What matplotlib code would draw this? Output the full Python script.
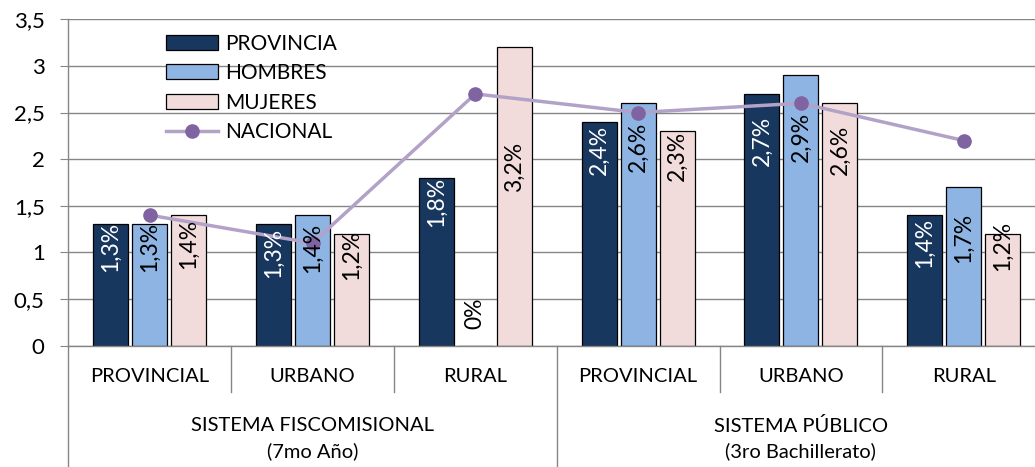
import numpy as np
import matplotlib.pyplot as plt
from matplotlib.lines import Line2D
from matplotlib.patches import Patch
from matplotlib.ticker import FuncFormatter
import matplotlib.transforms as mtransforms

plt.rcParams['font.family'] = ['Lato', 'DejaVu Sans']

categorias = ["PROVINCIAL", "URBANO", "RURAL", "PROVINCIAL", "URBANO", "RURAL"]
grupos = ["SISTEMA FISCOMISIONAL\n(7mo Año)", "SISTEMA PÚBLICO\n(3ro Bachillerato)"]
provincia = [1.3, 1.3, 1.8, 2.4, 2.7, 1.4]
hombres = [1.3, 1.4, 0.0, 2.6, 2.9, 1.7]
mujeres = [1.4, 1.2, 3.2, 2.3, 2.6, 1.2]
nacional = [1.4, 1.1, 2.7, 2.5, 2.6, 2.2]

# where each rotated data label sits (centre, in axis units) - hand placed in the original
pos_prov = [1.06, 0.99, 1.54, 2.10, 2.20, 1.10]
pos_homb = [1.06, 1.05, 0.35, 2.13, 2.24, 1.16]
pos_muj = [1.09, 0.97, 1.92, 2.03, 2.10, 1.07]

c_prov = "#17375E"
c_homb = "#8DB4E2"
c_muj = "#F2DCDB"
c_nac_line = "#B3A2C7"
c_nac_mark = "#8064A2"
gris = "#868686"

W, H = 1035, 467
fig = plt.figure(figsize=(W / 100, H / 100), dpi=100)
y0, y35 = 345.7, 19.3
x0, cat_w = 68.3, 162.8
ax = fig.add_axes([x0 / W, (H - y0) / H, 6 * cat_w / W, (y0 - y35) / H])

x = np.arange(len(categorias))
bw, off = 0.215, 0.24
series = [(provincia, pos_prov, c_prov, "white", -off, "PROVINCIA"),
          (hombres, pos_homb, c_homb, "black", 0, "HOMBRES"),
          (mujeres, pos_muj, c_muj, "black", off, "MUJERES")]

for vals, pos, col, tcol, dx, name in series:
    ax.bar(x + dx, vals, width=bw, color=col, edgecolor="black", linewidth=0.9, zorder=2, label=name)
    for xi, v, p in zip(x, vals, pos):
        txt = "0%" if v == 0 else f"{v:.1f}".replace(".", ",") + "%"
        ax.text(xi + dx, p, txt, rotation=90, ha="center", va="center",
                color=tcol, fontsize=16.5, zorder=5)

ax.plot(x, nacional, color=c_nac_line, lw=2.5, marker="o", markersize=9.5,
        markerfacecolor=c_nac_mark, markeredgecolor=c_nac_mark, zorder=4, label="NACIONAL")

ax.set_xlim(-0.5, 5.5)
ax.set_ylim(0, 3.5)
ax.set_yticks(np.arange(0, 3.51, 0.5))
ax.yaxis.set_major_formatter(FuncFormatter(lambda v, _: f"{v:g}".replace(".", ",")))
ax.tick_params(axis="y", length=6, color=gris, pad=11, labelsize=16)
ax.set_xticks([])
ax.set_axisbelow(True)
ax.yaxis.grid(True, color=gris, lw=1)
for s in ["top", "right"]:
    ax.spines[s].set_visible(False)
for s in ["left", "bottom"]:
    ax.spines[s].set_color(gris)
    ax.spines[s].set_linewidth(1)

# category axis: labels and separators
trans = mtransforms.blended_transform_factory(ax.transData, ax.transAxes)
ppu = y0 - y35
for xi, lab in zip(x, categorias):
    ax.text(xi, -(377 - y0) / ppu, lab, transform=trans, ha="center", va="center", fontsize=14.5)
for b in [0.5, 1.5, 3.5, 4.5]:
    ax.add_line(Line2D([b, b], [0, -(392 - y0) / ppu], transform=trans, color=gris, lw=1, clip_on=False))
for b in [-0.5, 2.5, 5.5]:
    ax.add_line(Line2D([b, b], [0, -(H - y0) / ppu], transform=trans, color=gris, lw=1, clip_on=False))
for gi, g in enumerate(grupos):
    ax.text(1 + 3 * gi, -(438.5 - y0) / ppu, g, transform=trans, ha="center", va="center",
            fontsize=14.5, linespacing=1.5)

handles = [Patch(facecolor=c_prov, edgecolor="black", lw=0.9),
           Patch(facecolor=c_homb, edgecolor="black", lw=0.9),
           Patch(facecolor=c_muj, edgecolor="black", lw=0.9),
           Line2D([], [], color=c_nac_line, lw=2.5, marker="o", markersize=9.5,
                  markerfacecolor=c_nac_mark, markeredgecolor=c_nac_mark)]
ax.legend(handles, ["PROVINCIA", "HOMBRES", "MUJERES", "NACIONAL"], loc="upper left",
          bbox_to_anchor=(166 / W, 1 - 33.5 / H), bbox_transform=fig.transFigure,
          frameon=False, fontsize=15, handlelength=2.5, handleheight=0.72,
          handletextpad=0.33, labelspacing=0.46, borderpad=0, borderaxespad=0)

fig.savefig("out.png", dpi=100)
plt.close(fig)
